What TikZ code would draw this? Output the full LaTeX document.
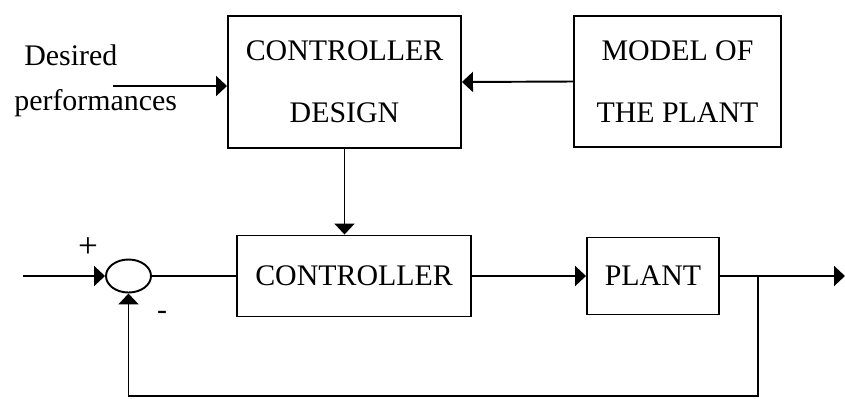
\documentclass[tikz,border=0pt]{standalone}
\usepackage{fontspec}
\setmainfont{Liberation Serif}
\usetikzlibrary{arrows.meta,positioning,shapes.geometric,calc}

\begin{document}
\begin{tikzpicture}[
    >={Triangle[length=0.22cm, width=0.4cm]},
    box/.style={draw, line width=1.1pt, align=center, inner sep=0pt},
    sumnode/.style={draw, ellipse, line width=1.1pt, minimum width=0.9cm,
                    minimum height=0.66cm, inner sep=0pt},
    arrow/.style={->, line width=1.1pt},
    wire/.style={line width=1.1pt},
    every node/.style={font=\fontsize{17}{35}\selectfont},
  ]
  \useasboundingbox (0,0) rectangle (16.9,-7.96);

  % Top row: design and model
  \node[box, minimum width=4.66cm, minimum height=2.64cm] at (6.89, -1.64) (design)
    {CONTROLLER\\DESIGN};
  \node[box, minimum width=4.14cm, minimum height=2.62cm] at (13.55, -1.63) (model)
    {MODEL OF\\THE PLANT};
  \node[anchor=base west, inner sep=0pt] at (0.48, -1.3) (desired) {Desired};
  \node[anchor=base west, inner sep=0pt] at (0.28, -2.2) (perf) {performances};
  \coordinate (dp) at (2.26, -1.72);

  % Bottom row: loop
  \node[sumnode] at (2.57, -5.52) (sum) {};
  \node[box, minimum width=4.68cm, minimum height=1.62cm] at (7.08, -5.52) (ctrl)
    {CONTROLLER};
  \node[box, minimum width=2.64cm, minimum height=1.54cm] at (13.06, -5.52) (plant)
    {PLANT};
  \node[inner sep=0pt, font=\fontsize{20}{20}\selectfont] at (1.76, -4.96) (plus) {+};
  \node[inner sep=0pt] at (3.24, -6.30) (minus) {-};
  \coordinate (in) at (0.46, -5.52);
  \coordinate (out) at (16.9, -5.52);
  \coordinate (tap) at (15.16, -7.92);

  % Arrows
  \draw[arrow] (dp) -- (dp -| design.west);
  \draw[arrow] (model.west) -- (design.east);
  \draw[arrow] (design.south) -- (design.south |- ctrl.north);
  \draw[arrow] (in) -- (sum.west);
  \draw[wire] (sum.east) -- (ctrl.west);
  \draw[arrow] (ctrl) -- (plant);
  \draw[arrow] (plant.east) -- (out);
  \draw[arrow] (tap |- plant.east) -- (tap) -| (sum.south);

\end{tikzpicture}
\end{document}
